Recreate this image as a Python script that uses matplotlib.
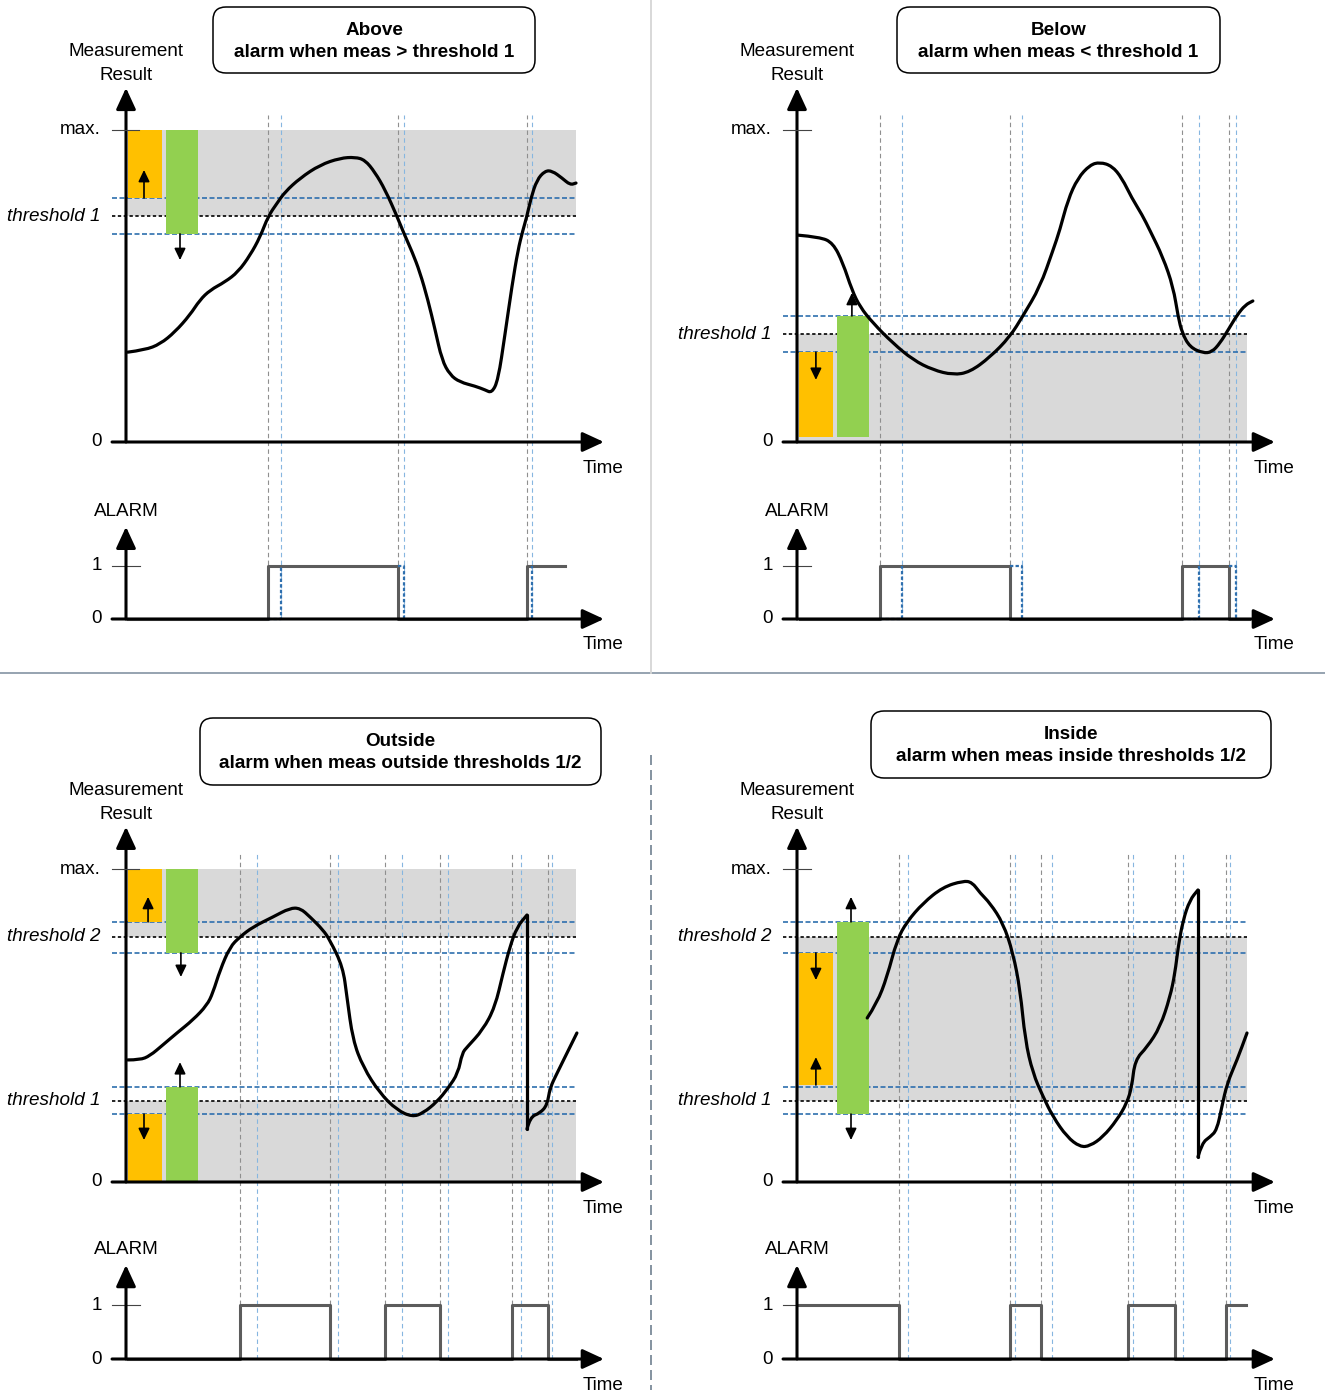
import matplotlib
matplotlib.use("Agg")
import matplotlib.pyplot as plt
from matplotlib.patches import FancyBboxPatch, PathPatch
from matplotlib.path import Path

plt.rcParams['font.family'] = ['Liberation Sans', 'DejaVu Sans']
plt.rcParams['font.size'] = 13.6

W, H = 1325, 1393
PX_T = 4.5  # pixels per time unit (time axis runs 0..100)

ORANGE = '#ffc000'
GREEN = '#92d050'
BAND = '#d9d9d9'
BLUE = '#2e6fae'
GUIDE_GRAY = '#8f8f8f'
GUIDE_BLUE = '#86b6e0'
SIG = '#5c5c5c'

# ---- data: time 0..100, value 0 (zero) .. 1 (max.) ----
above_t = [0.4, 4.2, 7.6, 10.9, 14.2, 16.4, 18.7, 22.0, 24.9, 27.6, 29.8, 31.6, 33.6, 35.3, 38.7,
           43.1, 47.6, 50.9, 53.1, 55.3, 57.6, 60.2, 61.8, 63.6, 65.3, 67.1, 68.7, 70.2, 72.0, 74.2,
           77.6, 79.8, 81.3, 82.7, 84.2, 85.8, 87.1, 88.2, 89.1, 90.0, 91.3, 93.1, 94.7, 96.9, 98.7, 100.0]
above_v = [0.288, 0.295, 0.314, 0.353, 0.407, 0.455, 0.487, 0.513, 0.545, 0.599, 0.657, 0.724, 0.766,
           0.801, 0.846, 0.888, 0.910, 0.913, 0.904, 0.865, 0.808, 0.724, 0.667, 0.609, 0.545, 0.455,
           0.359, 0.263, 0.215, 0.192, 0.179, 0.167, 0.157, 0.199, 0.343, 0.503, 0.615, 0.679, 0.724,
           0.782, 0.840, 0.869, 0.869, 0.846, 0.824, 0.830]

below_t = [0.2, 5.1, 8.0, 10.2, 12.2, 14.0, 16.9, 21.3, 25.8, 30.2, 34.7, 38.4, 42.9, 47.3, 50.2,
           54.0, 56.9, 58.4, 60.2, 62.4, 65.1, 67.3, 70.0, 72.2, 74.4, 76.7, 78.4, 81.3, 83.6, 84.7,
           85.6, 87.3, 90.2, 92.2, 94.0, 95.8, 97.8, 99.6, 101.3]
below_v = [0.663, 0.657, 0.638, 0.574, 0.487, 0.433, 0.381, 0.317, 0.263, 0.231, 0.215, 0.224, 0.272,
           0.337, 0.404, 0.497, 0.615, 0.679, 0.776, 0.846, 0.888, 0.897, 0.885, 0.846, 0.782, 0.728,
           0.679, 0.593, 0.497, 0.401, 0.349, 0.304, 0.285, 0.288, 0.317, 0.359, 0.407, 0.439, 0.452]

outside_t = [0.4, 3.1, 5.3, 8.2, 11.3, 14.9, 18.0, 19.3, 20.9, 23.1, 25.3, 28.2, 32.7, 36.4, 38.7,
             40.9, 43.8, 45.3, 48.2, 49.1, 50.4, 52.7, 56.4, 60.2, 63.6, 66.0, 69.1, 71.6, 73.8, 74.7,
             75.8, 79.3, 82.0, 83.8, 85.3, 86.9, 89.1, 89.1, 89.8, 92.0, 93.6, 94.2, 95.8, 98.0, 100.2]
outside_v = [0.390, 0.390, 0.403, 0.438, 0.476, 0.518, 0.565, 0.604, 0.677, 0.751, 0.783, 0.815, 0.847,
             0.875, 0.875, 0.847, 0.805, 0.773, 0.687, 0.591, 0.454, 0.367, 0.284, 0.230, 0.208, 0.220,
             0.256, 0.300, 0.348, 0.412, 0.431, 0.486, 0.559, 0.668, 0.751, 0.815, 0.853, 0.169, 0.208,
             0.220, 0.246, 0.300, 0.348, 0.412, 0.476]

inside_t = [15.6, 17.8, 20.0, 22.2, 24.4, 28.0, 32.4, 36.9, 38.9, 40.7, 42.9, 45.8, 48.0, 49.6, 50.7,
            52.4, 54.7, 56.9, 60.0, 62.9, 65.1, 68.0, 71.1, 73.3, 74.4, 75.1, 77.8, 80.7, 82.9, 84.0,
            84.7, 85.8, 87.3, 89.1, 89.1, 90.0, 91.8, 93.3, 94.4, 95.6, 97.8, 100.0]
inside_v = [0.524, 0.572, 0.655, 0.773, 0.831, 0.891, 0.942, 0.962, 0.958, 0.923, 0.891, 0.827, 0.732,
            0.613, 0.454, 0.348, 0.272, 0.208, 0.144, 0.112, 0.115, 0.144, 0.198, 0.252, 0.304, 0.390,
            0.431, 0.495, 0.591, 0.668, 0.751, 0.837, 0.901, 0.933, 0.080, 0.125, 0.144, 0.166, 0.240,
            0.316, 0.390, 0.476]

# thresholds and hysteresis levels
above_thr, above_thr_names = [0.724], ['threshold 1']
above_hyst = [0.667, 0.782]
below_thr, below_thr_names = [0.346], ['threshold 1']
below_hyst = [0.288, 0.404]
dual_thr, dual_thr_names = [0.259, 0.783], ['threshold 1', 'threshold 2']
dual_hyst = [0.217, 0.304, 0.732, 0.831]

# alarm regions (grey bands)
above_bands = [(0.724, 1.0)]
below_bands = [(0.0, 0.346)]
outside_bands = [(0.783, 1.0), (0.0, 0.259)]
inside_bands = [(0.259, 0.783)]

# orange / green hysteresis bars (bottom, top)
above_orange, above_green = [(0.782, 1.0)], [(0.667, 1.0)]
below_orange, below_green = [(0.015, 0.288)], [(0.015, 0.404)]
outside_orange, outside_green = [(0.831, 1.0), (0.0, 0.217)], [(0.732, 1.0), (0.0, 0.304)]
inside_orange, inside_green = [(0.31, 0.732)], [(0.217, 0.831)]

# small arrows (t, from, to)
above_arrows = [(4.0, 0.782, 0.872), (12.0, 0.667, 0.583)]
below_arrows = [(4.2, 0.288, 0.199), (12.2, 0.404, 0.478)]
outside_arrows = [(4.9, 0.831, 0.911), (12.2, 0.732, 0.655), (4.0, 0.217, 0.134), (12.0, 0.304, 0.383)]
inside_arrows = [(4.2, 0.732, 0.645), (4.2, 0.31, 0.399), (12.0, 0.831, 0.911), (12.0, 0.217, 0.134)]

# alarm signal (step, post)
above_alarm_t, above_alarm_v = [0.4, 31.6, 60.4, 89.1, 97.6], [0, 1, 0, 1, 1]
below_alarm_t, below_alarm_v = [0.7, 18.4, 47.3, 85.6, 96.0, 100.4], [0, 1, 0, 1, 0, 0]
outside_alarm_t = [0.4, 25.3, 45.3, 57.6, 69.8, 85.8, 93.8, 100.0]
outside_alarm_v = [0, 1, 0, 1, 0, 1, 0, 0]
inside_alarm_t = [0.4, 22.7, 47.3, 54.2, 73.6, 84.0, 95.3, 99.8]
inside_alarm_v = [1, 0, 1, 0, 1, 0, 1, 1]

# delayed (hysteresis) switching times
above_blue = [34.4, 61.8, 90.2]
below_blue = [23.3, 50.0, 89.3, 97.6]
outside_blue = [29.1, 47.1, 61.3, 71.6, 87.8, 94.7]
inside_blue = [24.7, 48.4, 56.7, 74.7, 85.8, 96.2]

fig = plt.figure(figsize=(W / 100, H / 100), dpi=100)
deco = fig.add_axes([0, 0, 1, 1])
deco.set_xlim(0, W)
deco.set_ylim(H, 0)
deco.axis('off')
deco.plot([0, W], [673, 673], color='#8494a3', lw=1.2)
deco.plot([651, 651], [0, 673], color='#d6d6d6', lw=1.3)
deco.plot([651, 651], [755, 1390], color='#6f8090', lw=1.2, ls=(0, (6, 3)))


def make_ax(ox, left, right, y_top, y_bot, zero_y, unit_px):
    ax = fig.add_axes([left / W, 1 - y_bot / H, (right - left) / W, (y_bot - y_top) / H])
    ax.set_xlim((left - ox) / PX_T, (right - ox) / PX_T)
    ax.set_ylim((zero_y - y_bot) / unit_px, (zero_y - y_top) / unit_px)
    ax.axis('off')
    return ax


def axis_arrow(ax, start, tip):
    ax.annotate('', xy=tip, xytext=start, annotation_clip=False,
                arrowprops=dict(arrowstyle='-|>,head_length=0.65,head_width=0.3', color='black',
                                lw=2.2, mutation_scale=20, shrinkA=0, shrinkB=0), zorder=6)


def smooth_curve(ax, ts, vs):
    # split at vertical jumps, draw each piece as a quadratic bezier through midpoints
    breaks = [i for i in range(1, len(ts)) if ts[i] == ts[i - 1]]
    bounds = [0] + breaks + [len(ts)]
    for i in breaks:
        ax.plot([ts[i - 1], ts[i]], [vs[i - 1], vs[i]], color='black', lw=2.3,
                solid_capstyle='round', zorder=4)
    for a, b in zip(bounds[:-1], bounds[1:]):
        pts = list(zip(ts[a:b], vs[a:b]))
        verts, codes = [pts[0]], [Path.MOVETO]
        for j in range(1, len(pts) - 1):
            mid = ((pts[j][0] + pts[j + 1][0]) / 2, (pts[j][1] + pts[j + 1][1]) / 2)
            verts += [pts[j], mid]
            codes += [Path.CURVE3, Path.CURVE3]
        verts.append(pts[-1])
        codes.append(Path.LINETO)
        ax.add_patch(PathPatch(Path(verts, codes), fill=False, ec='black', lw=2.3,
                               capstyle='round', joinstyle='round', zorder=4))


def draw_panel(q, title, sub, box, curve_t, curve_v, thr, thr_names, hyst, bands,
               orange, green, arrows, alarm_t, alarm_v, blue_t, hyst_alarm):
    ax = make_ax(q['ox'], q['left'], q['right'], q['top'], q['split'], q['meas0'], q['meas_px'])
    al = make_ax(q['ox'], q['left'], q['right'], q['split'], q['bottom'], q['al0'], q['al_px'])

    for lo, hi in bands:
        ax.fill_between([0, 100], lo, hi, color=BAND, lw=0, zorder=1)

    gray_t = alarm_t[1:-1]
    for a, y0, y1 in [(ax, ax.get_ylim()[0], 1.047), (al, 0, al.get_ylim()[1])]:
        a.vlines(gray_t, y0, y1, colors=GUIDE_GRAY, lw=0.8, linestyles=(0, (4, 3)), zorder=1.5)
        a.vlines(blue_t, y0, y1, colors=GUIDE_BLUE, lw=0.8, linestyles=(0, (4, 3)), zorder=1.5)

    ax.hlines(thr, -3.1, 100, colors='black', lw=1.2, linestyles=(0, (2, 1.5)), zorder=2)
    ax.hlines(hyst, -3.1, 100, colors=BLUE, lw=1.2, linestyles=(0, (3, 1.5)), zorder=2)
    for v, name in zip(thr, thr_names):
        ax.text(-5.6, v, name, style='italic', ha='right', va='center')

    for lo, hi in orange:
        ax.bar(4.2, hi - lo, bottom=lo, width=7.5, color=ORANGE, zorder=3)
    for lo, hi in green:
        ax.bar(12.4, hi - lo, bottom=lo, width=7.2, color=GREEN, zorder=3)
    for t, v0, v1 in arrows:
        ax.annotate('', xy=(t, v1), xytext=(t, v0), annotation_clip=False,
                    arrowprops=dict(arrowstyle='-|>,head_length=0.5,head_width=0.24', color='black',
                                    lw=1.2, mutation_scale=14, shrinkA=0, shrinkB=0), zorder=5)

    smooth_curve(ax, curve_t, curve_v)

    axis_arrow(ax, (0, 0), (0, 1.135))
    axis_arrow(ax, (-3.1, 0), (106.2, 0))
    ax.plot([-3.1, 3.0], [1, 1], color='#444444', lw=0.8, zorder=6)
    ax.text(0, 1.213, 'Measurement\nResult', ha='center', va='center', linespacing=1.5)
    ax.text(-5.6, 1, 'max.', ha='right', va='center')
    ax.text(-5.3, 0, '0', ha='right', va='center')
    ax.text(106, -0.085, 'Time', ha='center', va='center')

    axis_arrow(al, (0, 0), (0, 1.74))
    axis_arrow(al, (-3.1, 0), (106.2, 0))
    al.plot([-3.1, 3.1], [1, 1], color='#444444', lw=0.8, zorder=3)
    al.step(alarm_t, alarm_v, where='post', color=SIG, lw=2.2, zorder=4)
    if hyst_alarm:
        for i, b in enumerate(blue_t):
            g, before, after = alarm_t[i + 1], alarm_v[i], alarm_v[i + 1]
            al.plot([g, b, b], [before, before, after], color=BLUE, lw=1.6,
                    ls=(0, (1.5, 1)), zorder=5)
    al.text(0, 2.02, 'ALARM', ha='center', va='center')
    al.text(-5.3, 1, '1', ha='right', va='center')
    al.text(-5.3, 0, '0', ha='right', va='center')
    al.text(106, -0.49, 'Time', ha='center', va='center')

    x0, y0, x1, y1 = box
    deco.add_patch(FancyBboxPatch((x0, y0), x1 - x0, y1 - y0,
                                  boxstyle='round,pad=0,rounding_size=13',
                                  fc='white', ec='black', lw=1.1))
    deco.text((x0 + x1) / 2, y0 + 23.5, title, ha='center', va='center', fontweight='bold')
    deco.text((x0 + x1) / 2, y0 + 45.5, sub, ha='center', va='center', fontweight='bold')


top_left = dict(ox=126, left=0, right=651, top=80, split=500, bottom=668,
                meas0=442, meas_px=312, al0=619, al_px=53)
top_right = dict(top_left, ox=797, left=651, right=1325)
bot_left = dict(ox=126, left=0, right=651, top=820, split=1240, bottom=1393,
                meas0=1182, meas_px=313, al0=1359, al_px=54)
bot_right = dict(bot_left, ox=797, left=651, right=1325)

draw_panel(top_left, 'Above', 'alarm when meas > threshold 1', (213, 7, 535, 73),
           above_t, above_v, above_thr, above_thr_names, above_hyst, above_bands,
           above_orange, above_green, above_arrows, above_alarm_t, above_alarm_v, above_blue, True)
draw_panel(top_right, 'Below', 'alarm when meas < threshold 1', (897, 7, 1220, 73),
           below_t, below_v, below_thr, below_thr_names, below_hyst, below_bands,
           below_orange, below_green, below_arrows, below_alarm_t, below_alarm_v, below_blue, True)
draw_panel(bot_left, 'Outside', 'alarm when meas outside thresholds 1/2', (200, 718, 601, 785),
           outside_t, outside_v, dual_thr, dual_thr_names, dual_hyst, outside_bands,
           outside_orange, outside_green, outside_arrows, outside_alarm_t, outside_alarm_v,
           outside_blue, False)
draw_panel(bot_right, 'Inside', 'alarm when meas inside thresholds 1/2', (871, 711, 1271, 778),
           inside_t, inside_v, dual_thr, dual_thr_names, dual_hyst, inside_bands,
           inside_orange, inside_green, inside_arrows, inside_alarm_t, inside_alarm_v,
           inside_blue, False)

fig.savefig('out.png', dpi=100)
